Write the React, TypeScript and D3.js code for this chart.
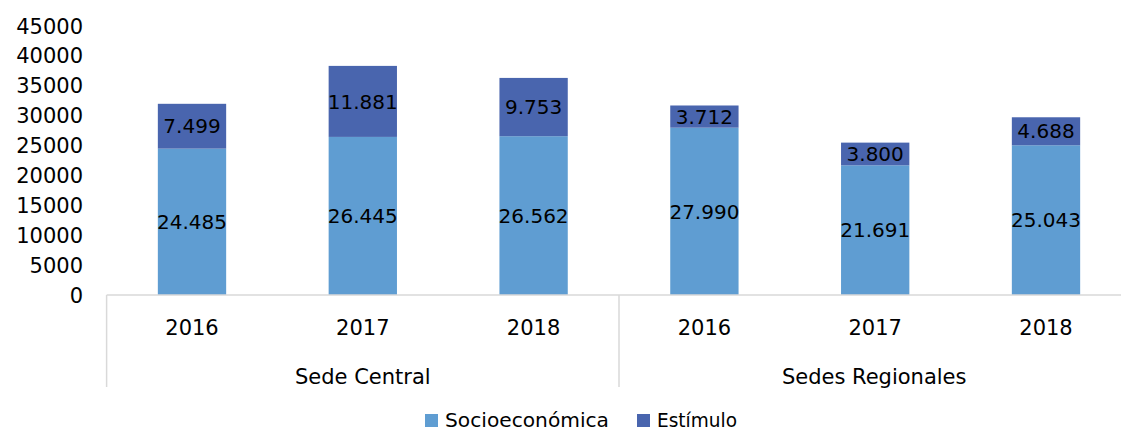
import React, { useEffect } from "react";
import * as d3 from "d3";

const groups = ["Sede Central", "Sedes Regionales"];
const years = ["2016", "2017", "2018"];
const categories = ["SC-2016", "SC-2017", "SC-2018", "SR-2016", "SR-2017", "SR-2018"];
const socioeconomica = [24485, 26445, 26562, 27990, 21691, 25043];
const estimulo = [7499, 11881, 9753, 3712, 3800, 4688];
const yTicks = [0, 5000, 10000, 15000, 20000, 25000, 30000, 35000, 40000, 45000];
const seriesNames = ["Socioeconómica", "Estímulo"];

const W = 1121;
const H = 432;
const left = 106.6;
const right = 1131.4;
const y0 = 295;
const yTop = 26;
const colors = ["#5f9dd2", "#4965ae"];
const font = "DejaVu Sans, sans-serif";
const fmt = (v: number) => d3.format(",")(v).replace(/,/g, ".");

export default function App() {
  useEffect(() => {
    document.body.style.margin = "0";
  }, []);
  const x = d3.scaleBand().domain(categories).range([left, right]).paddingInner(0.6).paddingOuter(0.3);
  const y = d3.scaleLinear().domain([0, 45000]).range([y0, yTop]);
  const catCenter = (i: number) => (x(categories[i]) as number) + x.bandwidth() / 2;
  const bw = x.bandwidth();
  const groupLeft = (g: number) => left + g * 3 * ((right - left) / 6);
  const gw = (right - left) / 2;

  return (
    <svg width={W} height={H} style={{ display: "block" }} fontFamily={font}>
      {/* y tick labels */}
      {yTicks.map((t) => (
        <text key={t} x={83} y={y(t)} dy="0.36em" textAnchor="end" fontSize={21} fill="#000">
          {t}
        </text>
      ))}
      {/* bars */}
      {categories.map((c, i) => {
        const xs = x(c) as number;
        const s = socioeconomica[i];
        const e = estimulo[i];
        return (
          <g key={c}>
            <rect x={xs} y={y(s)} width={bw} height={y(0) - y(s)} fill={colors[0]} />
            <rect x={xs} y={y(s + e)} width={bw} height={y(s) - y(s + e)} fill={colors[1]} />
            <text x={catCenter(i)} y={(y(0) + y(s)) / 2} dy="0.36em" textAnchor="middle" fontSize={20} fill="#000">
              {fmt(s)}
            </text>
            <text x={catCenter(i)} y={(y(s) + y(s + e)) / 2} dy="0.36em" textAnchor="middle" fontSize={20} fill="#000">
              {fmt(e)}
            </text>
          </g>
        );
      })}
      {/* axis box */}
      <line x1={left} x2={right} y1={y0} y2={y0} stroke="#d9d9d9" strokeWidth={1.5} />
      {[0, 1, 2].map((g) => (
        <line key={g} x1={groupLeft(g)} x2={groupLeft(g)} y1={y0} y2={387} stroke="#d9d9d9" strokeWidth={1.5} />
      ))}
      {/* year labels */}
      {categories.map((c, i) => (
        <text key={c} x={catCenter(i)} y={335} textAnchor="middle" fontSize={21} fill="#000">
          {years[i % 3]}
        </text>
      ))}
      {/* group labels */}
      {groups.map((g, gi) => (
        <text key={g} x={groupLeft(gi) + gw / 2 + (gi === 1 ? -1 : 0)} y={384} textAnchor="middle" fontSize={21} fill="#000">
          {g}
        </text>
      ))}
      {/* legend */}
      <rect x={425} y={414} width={13} height={13} fill={colors[0]} />
      <text x={445} y={427} fontSize={19} fill="#000" textLength={164} lengthAdjust="spacingAndGlyphs">
        {seriesNames[0]}
      </text>
      <rect x={637} y={414} width={13} height={13} fill={colors[1]} />
      <text x={657} y={427} fontSize={19} fill="#000" textLength={80} lengthAdjust="spacingAndGlyphs">
        {seriesNames[1]}
      </text>
    </svg>
  );
}
